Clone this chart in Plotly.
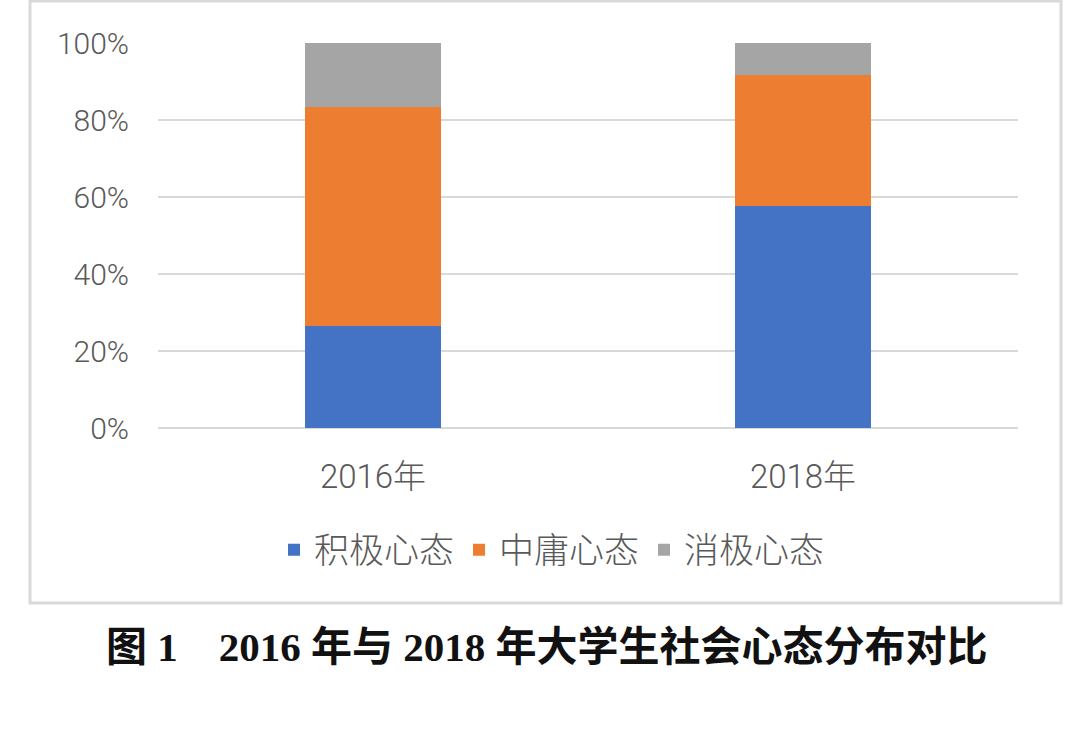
import plotly.graph_objects as go

categories = ["2016年", "2018年"]
positive = [26.5, 57.6]
moderate = [56.9, 34.2]
negative = [16.6, 8.2]
series_names = ["积极心态", "中庸心态", "消极心态"]
colors = ["#4472C4", "#ED7D31", "#A5A5A5"]
y_ticks = [0, 20, 40, 60, 80, 100]
y_tick_labels = ["0%", "20%", "40%", "60%", "80%", "100%"]
caption = "图 1　2016 年与 2018 年大学生社会心态分布对比"

W, H = 1079, 729
L, R, T, B = 158, 61, 43, 301

fig = go.Figure()
for name, vals, col in zip(series_names, [positive, moderate, negative], colors):
    fig.add_trace(go.Bar(x=categories, y=vals, name=name, marker=dict(color=col, line=dict(width=0))))

pw = W - L - R
ph = H - T - B

def px2paper_x(px):
    return (px - L) / pw

def px2paper_y(py):
    return (H - B - py) / ph

fig.update_layout(
    width=W, height=H,
    margin=dict(l=L, r=R, t=T, b=B),
    barmode="stack",
    bargap=0.686,
    paper_bgcolor="white",
    plot_bgcolor="white",
    font=dict(family="Roboto, Noto Sans CJK SC, sans-serif", color="#595959", size=24),
    showlegend=True,
    legend=dict(orientation="h", x=px2paper_x(552), xanchor="center",
                y=px2paper_y(550), yanchor="middle",
                font=dict(size=35, color="#595959", family="Noto Sans CJK SC, sans-serif", weight=300),
                traceorder="normal", itemwidth=30, bgcolor="rgba(0,0,0,0)"),
    xaxis=dict(showgrid=False, showline=False, ticks="", ticklabelstandoff=26,
               tickfont=dict(size=33, color="#595959", family="Roboto, Noto Sans CJK SC, sans-serif", weight=300)),
    yaxis=dict(range=[0, 100], tickvals=y_ticks, ticktext=y_tick_labels,
               showgrid=True, gridcolor="#D9D9D9", gridwidth=2,
               zeroline=True, zerolinecolor="#D9D9D9", zerolinewidth=2,
               showline=False, ticks="", ticklabelstandoff=28,
               tickfont=dict(size=30, color="#595959", family="Roboto, sans-serif", weight=300)),
    shapes=[dict(type="rect", xref="paper", yref="paper",
                 x0=px2paper_x(30), x1=px2paper_x(1061),
                 y0=px2paper_y(603), y1=px2paper_y(1),
                 line=dict(color="#D9D9D9", width=3), fillcolor="rgba(0,0,0,0)", layer="below")],
    annotations=[dict(text="<b>" + caption + "</b>", xref="paper", yref="paper",
                      x=px2paper_x(547), y=px2paper_y(647), xanchor="center", yanchor="middle",
                      showarrow=False,
                      font=dict(size=41, color="#111111", family="Liberation Serif, Noto Sans CJK SC, serif"))],
)

fig.write_html("out.html")
